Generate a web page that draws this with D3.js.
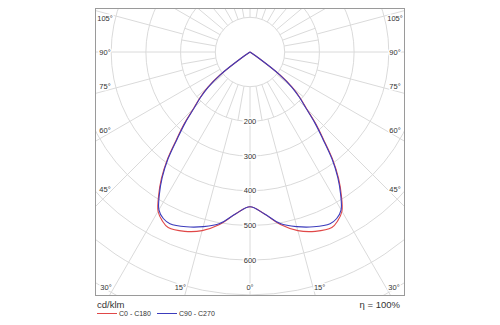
<!DOCTYPE html>
<html><head><meta charset="utf-8">
<script src="https://cdn.jsdelivr.net/npm/d3@7"></script>
<style>body{margin:0;background:#fff}svg{display:block}</style>
</head><body>
<script>
// gamma angles (deg from nadir) and luminous intensity values (cd/klm)
const gammaAngles = [0, 5, 10, 15, 20, 25, 27.5, 30, 32.5, 35, 37.5, 40, 42.5, 45, 47.5, 50, 52.5, 55, 56];
const c0c180  = [446, 468, 505, 533, 550, 558, 548, 530, 490, 445, 392, 330, 280, 230, 196, 160, 110, 30, 0];
const c90c270 = [446, 468, 502, 521, 536, 546, 541, 525, 486, 441, 388, 326, 276, 227, 193, 157, 108, 29, 0];
const radialTicks = [200, 300, 400, 500, 600];
const circleValues = [100, 200, 300, 400, 500, 600, 700, 800];
const angleLabels = [0, 15, 30, 45, 60, 75, 90, 105];
const seriesNames = ["C0 - C180", "C90 - C270"];
const seriesColors = ["#e04848", "#3c3cbc"];
const unitLabel = "cd/klm";
const effLabel = "\u03b7 = 100%";

const W = 500, H = 325;
const box = {x0: 95.5, y0: 8.5, x1: 404.5, y1: 295.5};
const cx = 250, cy = 52;
const r = d3.scaleLinear().domain([0, 100]).range([0, 34.7]);
const rad = d => d * Math.PI / 180;

const svg = d3.select("body").append("svg").attr("width", W).attr("height", H)
  .style("font-family", "'Liberation Sans', Arial, sans-serif");

svg.append("clipPath").attr("id", "clip").append("rect")
  .attr("x", box.x0).attr("y", box.y0).attr("width", box.x1 - box.x0).attr("height", box.y1 - box.y0);

const grid = svg.append("g").attr("clip-path", "url(#clip)")
  .append("g").attr("transform", `translate(${cx},${cy})`);
const gridColor = "#dadada";

// circles
grid.selectAll("circle.ring").data(circleValues).join("circle")
  .attr("r", d => r(d)).attr("fill", "none").attr("stroke", gridColor).attr("stroke-width", 1);

// spokes: every 10° in the inner band, every 15° outside it
function spoke(a, r0, r1) {
  const s = Math.sin(rad(a)), c = Math.cos(rad(a));
  return {x1: s * r0, y1: c * r0, x2: s * r1, y2: c * r1};
}
const spokes = d3.range(0, 360, 10).map(a => spoke(a, r(100), r(200)))
  .concat(d3.range(0, 360, 15).map(a => spoke(a, r(200), r(1200))));
grid.selectAll("line.spoke").data(spokes).join("line")
  .attr("x1", d => d.x1).attr("y1", d => d.y1).attr("x2", d => d.x2).attr("y2", d => d.y2)
  .attr("stroke", gridColor).attr("stroke-width", 1);

// curves
function loopPoints(vals) {
  const pts = [];
  for (let i = gammaAngles.length - 1; i >= 0; i--) pts.push([-gammaAngles[i], vals[i]]);
  for (let i = 1; i < gammaAngles.length; i++) pts.push([gammaAngles[i], vals[i]]);
  return pts;
}
const radial = d3.lineRadial()
  .angle(d => Math.PI - rad(d[0]))
  .radius(d => r(d[1]))
  .curve(d3.curveCatmullRom.alpha(0.5));
const curves = svg.append("g").attr("transform", `translate(${cx},${cy})`);
[c0c180, c90c270].forEach((vals, i) => {
  curves.append("path").attr("d", radial(loopPoints(vals)))
    .attr("fill", "none").attr("stroke", seriesColors[i]).attr("stroke-width", 1.1);
});

// radial tick labels
const tickFont = 7.5, textColor = "#333";
svg.append("g").selectAll("text").data(radialTicks).join("text")
  .attr("x", cx).attr("y", d => cy + r(d)).attr("dy", "0.35em")
  .attr("text-anchor", "middle").attr("font-size", tickFont).attr("fill", textColor)
  .attr("stroke", "#fff").attr("stroke-width", 3).attr("paint-order", "stroke")
  .text(d => d);

// angle labels: placed where a slightly rotated ray meets an inner rectangle
const labelAngleOffset = 1.5;
const inset = {x0: 105, x1: 395, y0: 18, y1: 287};
function labelPos(a, side) {
  const ae = (a === 90 || a === 0) ? a : a + labelAngleOffset * Math.sign(90 - a);
  const dx = side * Math.sin(rad(ae)), dy = Math.cos(rad(ae));
  let t = Infinity;
  if (Math.abs(dx) > 1e-6) t = Math.min(t, ((side < 0 ? inset.x0 : inset.x1) - cx) / dx);
  if (dy > 1e-6) t = Math.min(t, (inset.y1 - cy) / dy);
  let x = cx + dx * t, y = cy + dy * t;
  y = Math.max(inset.y0, Math.min(inset.y1, y));
  return [x, y];
}
const angleData = [];
angleLabels.forEach(a => {
  angleData.push({a, p: labelPos(a, 1)});
  if (a !== 0) angleData.push({a, p: labelPos(a, -1)});
});
svg.append("g").selectAll("text").data(angleData).join("text")
  .attr("x", d => d.p[0]).attr("y", d => d.p[1]).attr("dy", "0.35em")
  .attr("text-anchor", "middle").attr("font-size", tickFont).attr("fill", textColor)
  .attr("stroke", "#fff").attr("stroke-width", 3).attr("paint-order", "stroke")
  .text(d => d.a + "\u00b0");

// frame
svg.append("rect").attr("x", box.x0).attr("y", box.y0)
  .attr("width", box.x1 - box.x0).attr("height", box.y1 - box.y0)
  .attr("fill", "none").attr("stroke", "#9a9a9a").attr("stroke-width", 1);

// legend
svg.append("text").attr("x", 97).attr("y", 307.5).attr("font-size", 9.5).attr("fill", "#333").text(unitLabel);
svg.append("text").attr("x", 400).attr("y", 307.5).attr("text-anchor", "end").attr("font-size", 9.5).attr("fill", "#333").text(effLabel);
const legX = [97, 157];
seriesNames.forEach((n, i) => {
  const g = svg.append("g").attr("transform", `translate(${legX[i]},313.5)`);
  g.append("line").attr("x1", 0).attr("x2", 20).attr("stroke", seriesColors[i]).attr("stroke-width", 1);
  g.append("text").attr("x", 22).attr("y", 2.5).attr("font-size", 7).attr("fill", "#333").text(n);
});
</script>
</body></html>
